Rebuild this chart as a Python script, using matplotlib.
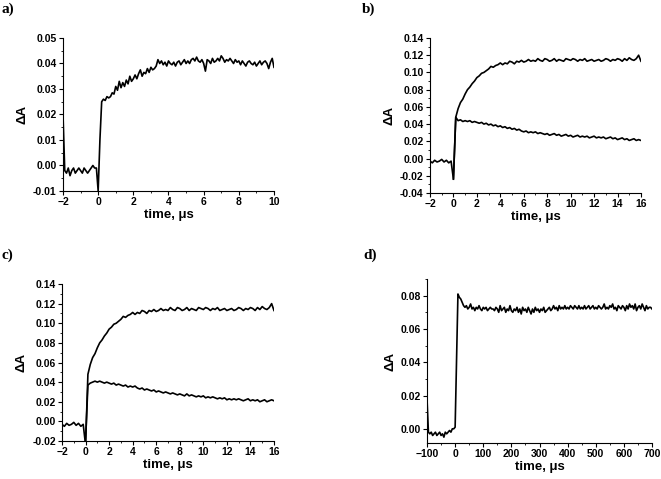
import numpy as np
import matplotlib
matplotlib.use('Agg')
import matplotlib.pyplot as plt
from matplotlib.ticker import MultipleLocator, FormatStrFormatter

# transient absorption traces, values in units of 1e-3 (mOD)

# a) t = -2 .. 10 us
t_a_range = (-2.0, 10.0)
dA_a = [
    20, -2, -3, -1, -4, -2, -1, -3, -2, -1,
    -2, -3, -1, -2, -3, -2, -1, 0, -1, -1,
    -10, 10, 25, 26, 25.5, 27, 26.5, 27, 28.5, 28,
    31, 29.5, 33, 30.5, 32.5, 31, 33.5, 32, 35, 33,
    34, 35.5, 34, 36, 37.5, 35, 36.5, 36, 38, 36.5,
    38.5, 37.5, 38, 39, 41.5, 40, 41, 39.5, 40.5, 39,
    41, 40, 39.5, 40.5, 39, 40.5, 41, 39.5, 40.5, 41.5,
    40, 41, 40, 41.5, 42, 41, 42.5, 41, 40.5, 41.5,
    40, 37, 41.5, 41, 40, 42, 40.5, 41, 42, 41,
    43, 42, 40.5, 41.5, 41, 42, 41, 40, 41.5, 40.5,
    41, 39.5, 41, 40, 39, 40.5, 41, 40, 39.5, 40.5,
    39, 40, 41, 39.5, 40.5, 41, 40, 38, 40.5, 42,
    38.5,
]

# b) and c) t = -2 .. 16 us, slow-rising trace
t_bc_range = (-2.0, 16.0)
dA_b_rise = [
    -3, -5, -2, -4, -3, -1, -4, -2, -5, -3,
    -24, 48, 58, 65, 69, 75, 80, 83, 87, 90,
    94, 96, 99, 100, 102, 104, 107, 106, 108, 109,
    111, 109, 111, 110, 113, 112, 110, 113, 112, 114,
    112, 113, 115, 113, 114, 113, 116, 114, 113, 116,
    115, 113, 114, 116, 113, 115, 114, 113, 116, 115,
    114, 116, 115, 113, 115, 114, 116, 113, 114, 115,
    113, 114, 115, 113, 114, 116, 115, 113, 115, 114,
    116, 115, 113, 116, 114, 117, 115, 114, 116, 120,
    113,
]

# decaying traces, t = 0 .. 16 us
t_decay_range = (0.0, 16.0)
dA_b_decay = [
    -24, 48, 44, 45, 43, 44, 43, 44, 42, 43,
    42, 41, 42, 40, 41, 39, 40, 38, 39, 37,
    38, 36, 37, 35, 36, 34, 35, 33, 34, 32,
    31, 32, 30, 31, 30, 31, 29, 30, 29, 28,
    29, 27, 28, 29, 27, 28, 26, 27, 28, 26,
    27, 25, 26, 27, 25, 26, 25, 26, 24, 25,
    26, 24, 25, 24, 25, 23, 24, 25, 23, 24,
    22, 23, 24, 22, 23, 21, 22, 23, 21, 22,
    21,
]
dA_c_decay = [
    -20, 37, 39, 40, 41, 40, 41, 40, 39, 40,
    39, 38, 39, 37, 38, 37, 36, 37, 35, 36,
    35, 36, 34, 33, 34, 32, 33, 32, 31, 32,
    30, 31, 30, 29, 30, 29, 28, 29, 28, 27,
    28, 27, 26, 28, 26, 27, 26, 25, 26, 25,
    26, 24, 25, 24, 25, 24, 23, 24, 23, 24,
    22, 23, 22, 23, 22, 23, 22, 21, 22, 23,
    21, 22, 21, 22, 20, 21, 22, 20, 21, 22,
    21,
]

# d) t = -100 .. 700 us
t_d_range = (-100.0, 700.0)
dA_d = [
    18, -2, -3, -2, -4, -3, -2, -4, -3, -2,
    -4, -3, -5, -2, -3, -2, -1, -2, 0, 0,
    1, 40, 81, 79, 78, 76, 74, 73, 74, 72,
    73, 75, 72, 73, 71, 73, 72, 74, 72, 71,
    73, 72, 73, 71, 72, 73, 72, 72, 71, 73,
    72, 70, 74, 71, 72, 73, 70, 72, 71, 74,
    71, 70, 72, 71, 73, 70, 72, 69, 73, 71,
    72, 70, 73, 71, 69, 72, 70, 73, 71, 72,
    70, 72, 71, 73, 70, 71, 72, 73, 71, 72,
    74, 72, 73, 71, 74, 72, 73, 72, 74, 72,
    73, 72, 74, 73, 72, 74, 73, 72, 74, 72,
    73, 72, 74, 72, 73, 74, 72, 73, 74, 72,
    73, 72, 74, 73, 72, 73, 75, 72, 73, 72,
    74, 73, 75, 72, 73, 71, 74, 73, 72, 74,
    73, 71, 74, 72, 75, 73, 74, 72, 75, 71,
    73, 74, 72, 75, 73, 71, 74, 72, 73, 73,
    72,
]


def trace(rng, vals):
    v = np.array(vals) * 1e-3
    return np.linspace(rng[0], rng[1], len(v)), v


def style(ax, xlim, ylim, xmaj, xmin, ymaj, ymin):
    ax.set_xlim(*xlim)
    ax.set_ylim(*ylim)
    ax.spines['top'].set_visible(False)
    ax.spines['right'].set_visible(False)
    ax.xaxis.set_major_locator(MultipleLocator(xmaj))
    ax.xaxis.set_minor_locator(MultipleLocator(xmin))
    ax.yaxis.set_major_locator(MultipleLocator(ymaj))
    ax.yaxis.set_minor_locator(MultipleLocator(ymin))
    ax.yaxis.set_major_formatter(FormatStrFormatter('%.2f'))
    ax.tick_params(which='major', direction='out', length=3, width=0.8,
                   labelsize=7.5, pad=1.5)
    ax.tick_params(which='minor', direction='out', length=1.5, width=0.6)
    for lab in ax.get_xticklabels() + ax.get_yticklabels():
        lab.set_fontweight('bold')
    ax.set_xlabel('time, \u03bcs', fontsize=9.5, fontweight='bold', labelpad=1)
    ax.set_ylabel('\u0394A', fontsize=9.5, fontweight='bold', labelpad=3)


plt.rcParams['font.family'] = ['Liberation Sans', 'DejaVu Sans']

fig = plt.figure(figsize=(6.61, 4.79), dpi=100)
ax_a = fig.add_axes([0.0953, 0.6013, 0.3192, 0.3194])
ax_b = fig.add_axes([0.6505, 0.5971, 0.3192, 0.3236])
ax_c = fig.add_axes([0.0938, 0.0793, 0.3207, 0.3278])
ax_d = fig.add_axes([0.6460, 0.0752, 0.3404, 0.3423])

lw = 1.2
ax_a.plot(*trace(t_a_range, dA_a), color='black', lw=lw)
style(ax_a, (-2, 10), (-0.01, 0.05), 2, 1, 0.01, 0.005)

ax_b.plot(*trace(t_bc_range, dA_b_rise), color='black', lw=lw)
ax_b.plot(*trace(t_decay_range, dA_b_decay), color='black', lw=lw)
style(ax_b, (-2, 16), (-0.04, 0.14), 2, 1, 0.02, 0.01)

ax_c.plot(*trace(t_bc_range, dA_b_rise), color='black', lw=lw)
ax_c.plot(*trace(t_decay_range, dA_c_decay), color='black', lw=lw)
style(ax_c, (-2, 16), (-0.02, 0.14), 2, 1, 0.02, 0.01)

ax_d.plot(*trace(t_d_range, dA_d), color='black', lw=lw)
style(ax_d, (-100, 700), (-0.0085, 0.09), 100, 50, 0.02, 0.01)

for x, y, s in [(0.003, 0.995, 'a)'), (0.548, 0.995, 'b)'),
                (0.003, 0.482, 'c)'), (0.549, 0.482, 'd)')]:
    fig.text(x, y, s, fontsize=11, fontweight='bold',
             family='Liberation Serif', va='top', ha='left')

fig.savefig('out.png', dpi=100)
